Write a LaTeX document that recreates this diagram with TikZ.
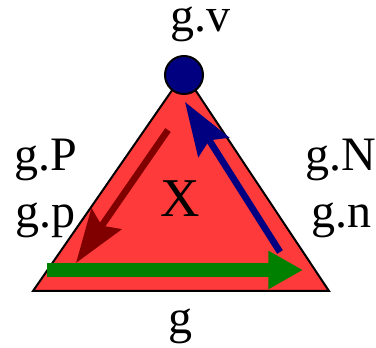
\documentclass[tikz,border=0pt]{standalone}
\usepackage{fontspec}
\setmainfont{Liberation Serif}
\usetikzlibrary{arrows.meta, positioning}
\definecolor{trired}{RGB}{255,58,58}
\definecolor{navyblue}{RGB}{0,0,128}
\definecolor{darkgreen}{RGB}{0,128,0}
\definecolor{maroon}{RGB}{128,0,0}

\begin{document}
\begin{tikzpicture}[
    x=0.75pt, y=-0.75pt,
    lbl/.style={anchor=base, inner sep=0pt, font=\fontsize{36}{40}\selectfont},
    vertex/.style={circle, draw=black, line width=1.5pt, fill=navyblue,
                   minimum size=28.5pt, inner sep=0pt},
    tri/.style={draw=black, line width=1.5pt, fill=trired, line join=miter},
    ptr/.style={line width=5pt, -{Stealth[length=40pt, width=27pt, inset=6pt]}},
]
\useasboundingbox (0,0) rectangle (376,348);

% Triangle
\coordinate (bl) at (33,291);
\coordinate (br) at (329,291);
\coordinate (top) at (184,73);
\draw[tri] (bl) -- (br) -- (top) -- cycle;

% Arrows inside
\coordinate (pTail) at (168,130);
\coordinate (pTip)  at (76,263);
\coordinate (nTail) at (280,252);
\coordinate (nTip)  at (185,102);
\coordinate (gTail) at (47,270);
\coordinate (gTip)  at (303,270);

\draw[ptr, maroon] (pTail) -- (pTip);
\draw[ptr, navyblue] (nTail) -- (nTip);
\draw[line width=10.5pt, darkgreen, -{Triangle[length=26pt, width=27pt]}]
     (gTail) -- (gTip);

% Vertex
\node[vertex] (v) at (184,75) {};

% Labels
\node[lbl] (lblv) at (201,32) {g.v};
\node[lbl] (lblP) at (46,171) {g.P};
\node[lbl] (lblp) at (46,228) {g.p};
\node[lbl] (lblN) at (341,171) {g.N};
\node[lbl] (lbln) at (341,228) {g.n};
\node[lbl, font=\fontsize{41}{44}\selectfont] (lblX) at (180,217) {X};
\node[lbl] (lblg) at (180,334) {g};

\end{tikzpicture}
\end{document}
